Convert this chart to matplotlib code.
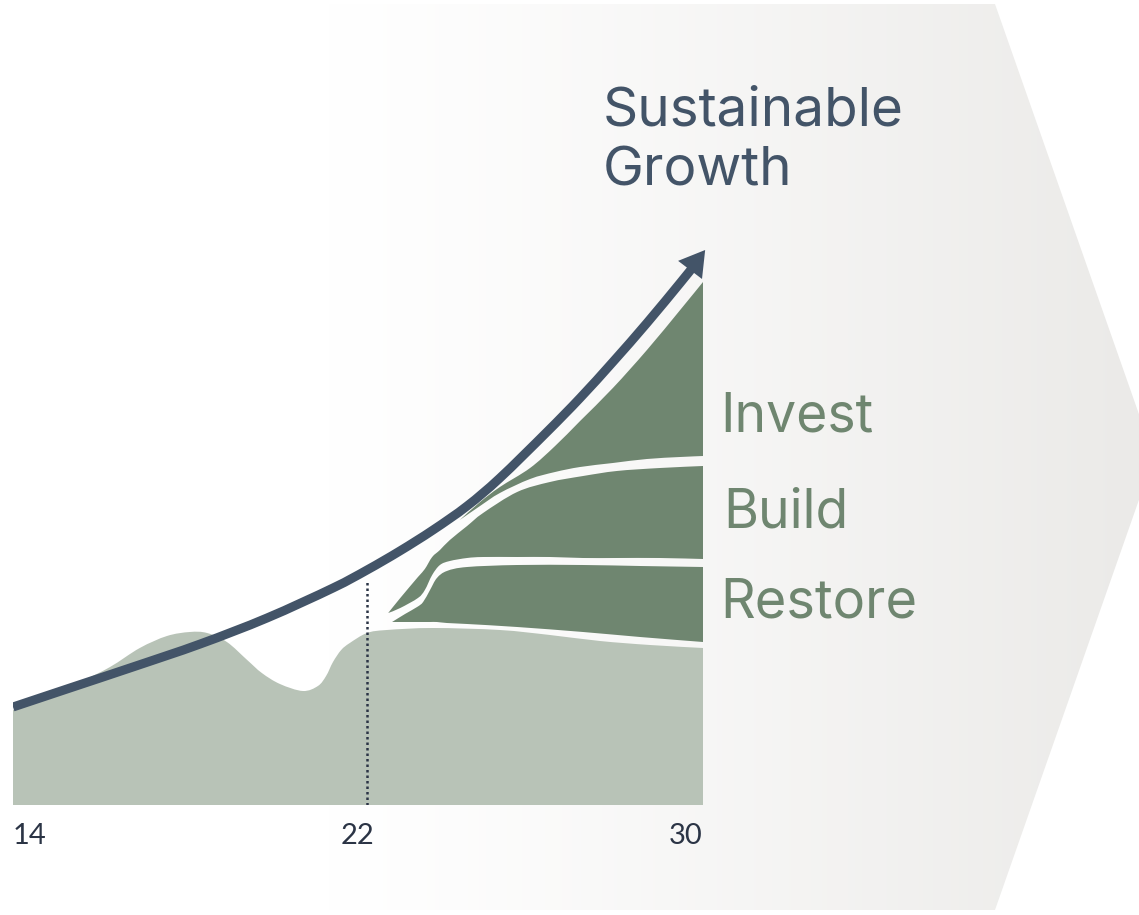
import numpy as np
import matplotlib
matplotlib.use("Agg")
import matplotlib.pyplot as plt
from matplotlib.patches import Polygon, PathPatch
from matplotlib.path import Path
from matplotlib.colors import to_rgb

# ---------------- data (x = year, y = level) ----------------
ticks = [14, 22, 30]
tick_labels = ["14", "22", "30"]
marker_year = 22.2

base_x = [14.00, 14.86, 15.55, 16.25, 16.94, 17.57, 18.10, 18.50, 18.96, 19.43,
          19.77, 20.19, 20.72, 21.07, 21.26, 21.42, 21.61, 21.81, 22.21, 22.67,
          23.74, 25.29, 26.45, 27.61, 28.77, 30.00]
base_y = [0.95, 1.10, 1.23, 1.38, 1.57, 1.69, 1.73, 1.72, 1.63, 1.45,
          1.32, 1.21, 1.14, 1.19, 1.29, 1.43, 1.55, 1.62, 1.72, 1.75,
          1.77, 1.75, 1.70, 1.64, 1.60, 1.57]

restore_x = [22.79, 23.09, 23.37, 23.51, 23.67, 23.83, 24.06, 24.53, 25.69, 27.22, 28.54, 30.00]
restore_lo = [1.83, 1.83, 1.83, 1.83, 1.83, 1.83, 1.82, 1.81, 1.78, 1.73, 1.68, 1.63]
restore_hi = [1.83, 1.91, 1.98, 2.03, 2.15, 2.27, 2.34, 2.38, 2.40, 2.40, 2.39, 2.38]

build_x = [22.70, 22.98, 23.39, 23.55, 23.72, 23.90, 24.13, 24.53, 24.90, 25.69,
           26.45, 27.22, 28.00, 29.00, 30.00]
build_lo = [1.92, 1.97, 2.07, 2.15, 2.30, 2.40, 2.44, 2.47, 2.48, 2.48,
            2.48, 2.47, 2.47, 2.47, 2.46]
build_hi = [1.92, 2.07, 2.28, 2.36, 2.48, 2.55, 2.65, 2.79, 2.92, 3.13,
            3.23, 3.29, 3.34, 3.37, 3.39]

invest_x = [24.36, 24.83, 25.29, 25.99, 26.57, 27.15, 27.91, 28.70, 29.47, 30.00]
invest_lo = [2.85, 2.99, 3.12, 3.26, 3.33, 3.38, 3.42, 3.46, 3.48, 3.49]
invest_hi = [2.85, 3.03, 3.18, 3.37, 3.59, 3.84, 4.17, 4.55, 4.95, 5.23]

growth_x = [14.00, 15.25, 16.78, 18.34, 19.89, 21.42, 22.21, 22.97, 23.74, 24.53,
            25.29, 26.38, 27.15, 27.91, 28.70, 29.47, 29.75]
growth_y = [0.98, 1.16, 1.38, 1.61, 1.87, 2.17, 2.35, 2.54, 2.75, 2.99,
            3.27, 3.73, 4.07, 4.43, 4.82, 5.22, 5.37]
growth_tip = (30.05, 5.55)

series_labels = ["Invest", "Build", "Restore"]
title_lines = ["Sustainable", "Growth"]

# ---------------- style ----------------
W, H = 1139, 915
BASE_C = "#B8C3B7"
BAND_C = "#6F8670"
ARROW_C = "#435468"
TITLE_C = "#435468"
TICK_C = "#2B3445"


def smooth_segments(xs, ys):
    """Bezier (Catmull-Rom) vertices/codes through the given points (without MOVETO)."""
    p = np.column_stack([xs, ys]).astype(float)
    n = len(p)
    verts, codes = [], []
    for i in range(n - 1):
        p0 = p[i - 1] if i > 0 else p[i]
        p1, p2 = p[i], p[i + 1]
        p3 = p[i + 2] if i + 2 < n else p[i + 1]
        c1 = p1 + (p2 - p0) / 6.0
        c2 = p2 - (p3 - p1) / 6.0
        verts += [tuple(c1), tuple(c2), tuple(p2)]
        codes += [Path.CURVE4] * 3
    return verts, codes


def smooth_line_path(xs, ys):
    v, c = smooth_segments(xs, ys)
    return Path([(xs[0], ys[0])] + v, [Path.MOVETO] + c)


def band_path(xs, lo, hi):
    v1, c1 = smooth_segments(xs, lo)
    v2, c2 = smooth_segments(xs[::-1], hi[::-1])
    verts = [(xs[0], lo[0])] + v1 + [(xs[-1], hi[-1])] + v2 + [(xs[0], lo[0])]
    codes = [Path.MOVETO] + c1 + [Path.LINETO] + c2 + [Path.CLOSEPOLY]
    return Path(verts, codes)


fig = plt.figure(figsize=(W / 100, H / 100), dpi=100)
fig.patch.set_facecolor("white")

# background chevron with horizontal gradient
bg = fig.add_axes([0, 0, 1, 1])
bg.set_xlim(0, W)
bg.set_ylim(H, 0)
bg.axis("off")
gx = np.linspace(0, W, 600)
t = np.clip((gx - 330) / (W - 330), 0, 1) ** 1.15
c0 = np.array(to_rgb("#FFFFFF"))
c1 = np.array(to_rgb("#EBEAE8"))
grad = c0[None, :] * (1 - t[:, None]) + c1[None, :] * t[:, None]
img = bg.imshow(grad[None, :, :], extent=(0, W, H, 0), aspect="auto", zorder=0)
chev = Polygon([(0, 4), (995, 4), (1154, 457), (995, 910), (0, 910)],
               closed=True, facecolor="none", edgecolor="none", transform=bg.transData)
bg.add_patch(chev)
img.set_clip_path(chev)

# main axes
ax = fig.add_axes([13 / W, 110 / H, 690 / W, 800 / H])
ax.set_xlim(14, 30)
ax.set_ylim(0, 8)
ax.patch.set_alpha(0)
for s in ax.spines.values():
    s.set_visible(False)
ax.set_yticks([])

# base area
bv, bc = smooth_segments(base_x, base_y)
base_path = Path([(base_x[0], 0), (base_x[0], base_y[0])] + bv +
                 [(base_x[-1], 0), (base_x[0], 0)],
                 [Path.MOVETO, Path.LINETO] + bc + [Path.LINETO, Path.CLOSEPOLY])
ax.add_patch(PathPatch(base_path, facecolor=BASE_C, edgecolor="none", zorder=2))

for bx, blo, bhi in [(restore_x, restore_lo, restore_hi),
                     (build_x, build_lo, build_hi),
                     (invest_x, invest_lo, invest_hi)]:
    ax.add_patch(PathPatch(band_path(bx, blo, bhi), facecolor=BAND_C,
                           edgecolor="none", zorder=3))

# marker line
y_at = np.interp(marker_year, growth_x, growth_y)
ax.plot([marker_year, marker_year], [0, y_at - 0.1], color=TICK_C, lw=1.8,
        linestyle=(0, (1.0, 1.2)), zorder=4)

# growth arrow
ax.add_patch(PathPatch(smooth_line_path(growth_x, growth_y), facecolor="none",
                       edgecolor=ARROW_C, lw=6.5, capstyle="butt", zorder=5))
ax.annotate("", xy=growth_tip, xytext=(growth_x[-2], growth_y[-2]),
            arrowprops=dict(arrowstyle="-|>,head_length=0.6,head_width=0.36",
                            mutation_scale=30, color=ARROW_C, lw=0,
                            shrinkA=0, shrinkB=0),
            annotation_clip=False, zorder=6)

# ticks
ax.set_xticks(ticks)
ax.set_xticklabels(tick_labels, fontsize=21, family="Lato", color=TICK_C)
ax.tick_params(axis="x", length=0, pad=13)
lbls = ax.get_xticklabels()
lbls[0].set_ha("left")
lbls[-1].set_ha("right")


def ftext(px, py, s, **kw):
    fig.text(px / W, 1 - py / H, s, va="baseline", ha="left", **kw)


ftext(603, 125, title_lines[0], fontsize=39.5, family="Inter", color=TITLE_C)
ftext(603, 185, title_lines[1], fontsize=39.5, family="Inter", color=TITLE_C)
ftext(720, 432, series_labels[0], fontsize=38.5, family="Inter", color=BAND_C)
ftext(723, 527, series_labels[1], fontsize=38.5, family="Inter", color=BAND_C)
ftext(720, 617, series_labels[2], fontsize=39, family="Inter", color=BAND_C)

fig.savefig("out.png", dpi=100, facecolor="white")
